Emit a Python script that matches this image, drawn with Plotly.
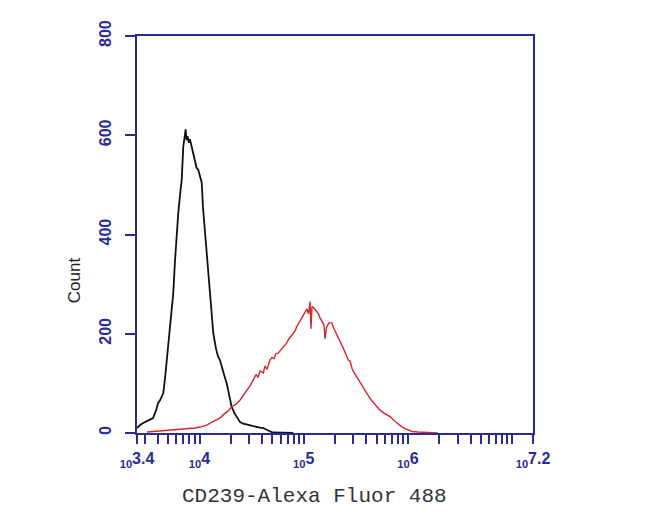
import plotly.graph_objects as go

# ---- data (log10 of fluorescence, counts) ----
black_log = [3.400, 3.429, 3.477, 3.525, 3.554, 3.582, 3.602, 3.621, 3.640, 3.652, 3.669, 3.685,
             3.697, 3.717, 3.731, 3.748, 3.765, 3.779, 3.796, 3.813, 3.829, 3.844, 3.856, 3.867,
             3.875, 3.885, 3.899, 3.909, 3.918, 3.937, 3.957, 3.971, 3.988, 4.005, 4.021, 4.033,
             4.053, 4.072, 4.086, 4.100, 4.119, 4.132, 4.158, 4.177, 4.196, 4.216, 4.235, 4.261,
             4.290, 4.308, 4.335, 4.355, 4.388, 4.420, 4.450, 4.484, 4.516, 4.580, 4.612, 4.660,
             4.700, 4.900]
black_cnt = [10, 16, 22, 28, 30, 45, 60, 66, 75, 80, 110, 147,
             180, 214, 250, 282, 348, 400, 443, 480, 510, 577, 595, 612,
             590, 598, 585, 592, 583, 565, 550, 535, 530, 515, 505, 455,
             403, 360, 320, 282, 230, 201, 170, 155, 147, 130, 118, 100,
             70, 53, 40, 32, 22, 19, 17, 15, 14, 11, 10, 5,
             1, 0]

red_log = [3.496, 3.621, 3.765, 3.877, 3.957, 4.005, 4.069, 4.120, 4.158, 4.196, 4.235, 4.273,
           4.308, 4.350, 4.388, 4.417, 4.446, 4.484, 4.516, 4.542, 4.561, 4.580, 4.612, 4.628,
           4.647, 4.676, 4.695, 4.715, 4.734, 4.756, 4.782, 4.801, 4.820, 4.836, 4.858, 4.878,
           4.897, 4.916, 4.932, 4.955, 4.974, 4.993, 5.012, 5.031, 5.046, 5.055, 5.060, 5.070,
           5.079, 5.098, 5.124, 5.142, 5.156, 5.175, 5.194, 5.204, 5.220, 5.242, 5.268, 5.290,
           5.319, 5.348, 5.377, 5.405, 5.428, 5.444, 5.463, 5.482, 5.508, 5.530, 5.559, 5.578,
           5.604, 5.636, 5.665, 5.700, 5.732, 5.771, 5.809, 5.828, 5.867, 5.905, 5.940, 5.972,
           6.003, 6.039, 6.096, 6.164, 6.289]
red_cnt = [2, 4, 6, 9, 10, 12, 16, 22, 26, 30, 38, 44,
           53, 58, 66, 75, 82, 95, 107, 118, 112, 125, 121, 135,
           128, 147, 152, 150, 160, 161, 168, 172, 178, 181, 190, 195,
           200, 205, 214, 222, 228, 236, 242, 250, 240, 258, 265, 210,
           255, 252, 244, 240, 232, 225, 218, 190, 214, 222, 222, 210,
           198, 187, 172, 158, 147, 145, 130, 122, 113, 104, 95, 88,
           80, 70, 62, 53, 46, 40, 35, 33, 25, 18, 13, 9,
           6, 3, 2, 1, 0]

x_tick_exponents = {3.4: "3.4", 4: "4", 5: "5", 6: "6", 7.2: "7.2"}
y_ticks = [0, 200, 400, 600, 800]

NAVY = "#2b2b96"


def lab(exp_text):
    return "<sub>10</sub>" + exp_text


# build tick positions (minor ticks at k*10^e) with labels at selected exponents
tickvals, ticktext = [10 ** 3.4], [lab(x_tick_exponents[3.4])]
for e in range(3, 8):
    for k in range(1, 10):
        v = k * 10 ** e
        if 10 ** 3.4 < v < 10 ** 7.2:
            tickvals.append(v)
            ticktext.append(lab(x_tick_exponents[e]) if (k == 1 and e in x_tick_exponents) else "")
tickvals.append(10 ** 7.2)
ticktext.append(lab(x_tick_exponents[7.2]))

fig = go.Figure()
fig.add_trace(go.Scatter(x=[10 ** v for v in black_log], y=black_cnt, mode="lines",
                         line=dict(color="#111111", width=1.8), showlegend=False))
fig.add_trace(go.Scatter(x=[10 ** v for v in red_log], y=red_cnt, mode="lines",
                         line=dict(color="#d8262a", width=1.4), showlegend=False))

fig.update_xaxes(type="log", range=[3.4, 7.2], showline=True, mirror=True, linecolor=NAVY,
                 linewidth=2, ticks="outside", ticklen=9, tickwidth=1.5, tickcolor=NAVY,
                 tickvals=tickvals, ticktext=ticktext, showgrid=False, zeroline=False,
                 tickfont=dict(family="Liberation Sans", size=16, color=NAVY, weight="bold"),
                 ticklabelstandoff=1)
fig.update_yaxes(range=[0, 800], showline=True, mirror=True, linecolor=NAVY, linewidth=2,
                 ticks="outside", ticklen=10, tickwidth=1.5, tickcolor=NAVY,
                 tickvals=y_ticks, showgrid=False, zeroline=False, tickangle=-90,
                 tickfont=dict(family="Liberation Sans", size=16, color=NAVY, weight="bold"),
                 ticklabelstandoff=8)

fig.add_annotation(text="Count", xref="paper", yref="paper", x=-0.159, y=0.385,
                   xanchor="center", yanchor="middle",
                   showarrow=False, textangle=-90,
                   font=dict(family="Liberation Sans", size=17, color="#222222"))
fig.add_annotation(text="CD239-Alexa Fluor 488", xref="paper", yref="paper", x=0.449, y=-0.161,
                   xanchor="center", yanchor="middle",
                   showarrow=False,
                   font=dict(family="Liberation Mono", size=21, color="#333333"))

fig.update_layout(width=650, height=521, margin=dict(l=129, r=125, t=28, b=96),
                  plot_bgcolor="white", paper_bgcolor="white")
fig.write_html("out.html")
